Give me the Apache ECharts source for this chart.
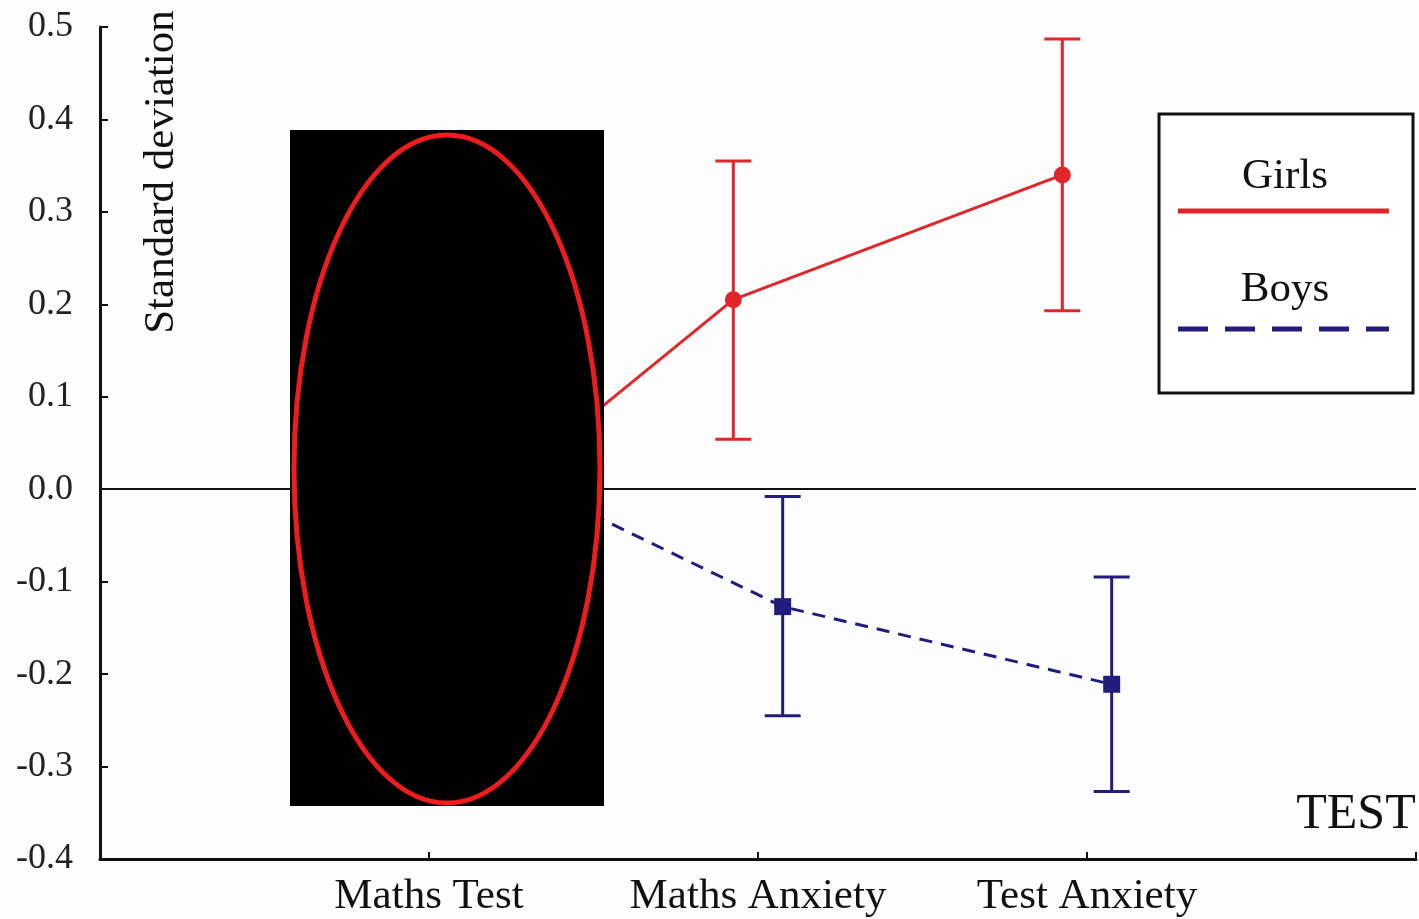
<!DOCTYPE html>
<html>
<head>
<meta charset="utf-8">
<script src="https://cdn.jsdelivr.net/npm/echarts@6/dist/echarts.min.js"></script>
<style>
  html, body { margin: 0; padding: 0; background: #fdfdfd; }
  #chart { width: 1419px; height: 919px; }
</style>
</head>
<body>
<div id="chart"></div>
<script>
// categories on the x axis (positions 1..3)
const categories = ['Maths Test', 'Maths Anxiety', 'Test Anxiety'];
// girls: mean and error bar ends (standard deviation units)
const girlsMean = [-0.085, 0.205, 0.340];
const girlsLow = [-0.235, 0.054, 0.193];
const girlsHigh = [0.065, 0.355, 0.487];
// boys
const boysMean = [0.045, -0.127, -0.211];
const boysLow = [-0.075, -0.245, -0.327];
const boysHigh = [0.165, -0.008, -0.095];
const yTicks = [-0.4, -0.3, -0.2, -0.1, 0.0, 0.1, 0.2, 0.3, 0.4, 0.5];

const RED = '#e0262a';
const NAVY = '#221d7c';
const shift = 0.075; // sideways offset so the two groups don't overlap
const serif = '"Liberation Serif", "DejaVu Serif", serif';

function pts(means, dx) {
  return means.map((v, i) => [i + 1 + dx, v]);
}
function bars(low, high, dx) {
  return low.map((v, i) => [i + 1 + dx, v, high[i]]);
}

function errorItem(color) {
  return function (params, api) {
    const x = api.value(0);
    const lo = api.coord([x, api.value(1)]);
    const hi = api.coord([x, api.value(2)]);
    const cap = 18;
    const style = { stroke: color, lineWidth: 3 };
    return {
      type: 'group',
      children: [
        { type: 'line', shape: { x1: lo[0], y1: lo[1], x2: hi[0], y2: hi[1] }, style: style },
        { type: 'line', shape: { x1: lo[0] - cap, y1: lo[1], x2: lo[0] + cap, y2: lo[1] }, style: style },
        { type: 'line', shape: { x1: hi[0] - cap, y1: hi[1], x2: hi[0] + cap, y2: hi[1] }, style: style }
      ]
    };
  };
}

const chart = echarts.init(document.getElementById('chart'));
const option = {
  backgroundColor: '#fdfdfd',
  animation: false,
  grid: { left: 100, right: 0, top: 27, bottom: 60 },
  xAxis: {
    type: 'value',
    min: 0,
    max: 4,
    interval: 1,
    splitLine: { show: false },
    axisLine: { onZero: false, lineStyle: { color: '#111', width: 3 } },
    axisTick: { inside: true, length: 7, lineStyle: { color: '#111', width: 2 } },
    axisLabel: {
      margin: 16,
      color: '#111',
      fontFamily: serif,
      fontSize: 43,
      formatter: v => categories[v - 1] || ''
    }
  },
  yAxis: {
    type: 'value',
    min: yTicks[0],
    max: yTicks[yTicks.length - 1],
    interval: 0.1,
    splitLine: { show: false },
    axisLine: { show: true, onZero: false, lineStyle: { color: '#111', width: 3 } },
    axisTick: { show: true, inside: true, length: 8, lineStyle: { color: '#111', width: 2 } },
    axisLabel: {
      margin: 27,
      color: '#222',
      fontFamily: serif,
      fontSize: 36,
      formatter: v => v.toFixed(1)
    }
  },
  series: [
    {
      name: 'Girls error',
      type: 'custom',
      renderItem: errorItem(RED),
      data: bars(girlsLow, girlsHigh, -shift),
      encode: { x: 0, y: [1, 2] },
      z: 2
    },
    {
      name: 'Boys error',
      type: 'custom',
      renderItem: errorItem(NAVY),
      data: bars(boysLow, boysHigh, shift),
      encode: { x: 0, y: [1, 2] },
      z: 2
    },
    {
      name: 'Girls',
      type: 'line',
      data: pts(girlsMean, -shift),
      symbol: 'circle',
      symbolSize: 17,
      itemStyle: { color: RED },
      lineStyle: { color: RED, width: 3 },
      z: 3,
      markLine: {
        silent: true,
        symbol: ['none', 'none'],
        label: { show: false },
        lineStyle: { color: '#111', width: 2, type: 'solid' },
        data: [{ yAxis: 0 }]
      }
    },
    {
      name: 'Boys',
      type: 'line',
      data: pts(boysMean, shift),
      symbol: 'rect',
      symbolSize: 17,
      itemStyle: { color: NAVY },
      lineStyle: { color: NAVY, width: 3, type: [13, 9] },
      z: 3
    }
  ],
  graphic: [
    {
      type: 'text',
      x: 162, y: 172,
      rotation: Math.PI / 2,
      style: { text: 'Standard deviation', font: '43px ' + serif, fill: '#111', align: 'center', verticalAlign: 'middle' }
    },
    {
      type: 'text',
      x: 1356, y: 815,
      style: { text: 'TEST', font: '50px ' + serif, fill: '#111', align: 'center', verticalAlign: 'middle' },
      z: 10
    },
    // legend box
    {
      type: 'rect',
      shape: { x: 1159, y: 114, width: 254, height: 279 },
      style: { fill: '#fff', stroke: '#111', lineWidth: 3 },
      z: 10
    },
    {
      type: 'text',
      x: 1285, y: 177,
      style: { text: 'Girls', font: '43px ' + serif, fill: '#111', align: 'center', verticalAlign: 'middle' },
      z: 11
    },
    {
      type: 'line',
      shape: { x1: 1178, y1: 211, x2: 1389, y2: 211 },
      style: { stroke: RED, lineWidth: 5 },
      z: 11
    },
    {
      type: 'text',
      x: 1285, y: 290,
      style: { text: 'Boys', font: '43px ' + serif, fill: '#111', align: 'center', verticalAlign: 'middle' },
      z: 11
    },
    {
      type: 'line',
      shape: { x1: 1178, y1: 329, x2: 1389, y2: 329 },
      style: { stroke: NAVY, lineWidth: 5, lineDash: [30, 17] },
      z: 11
    },
    // black block with red ring over the first category
    {
      type: 'rect',
      shape: { x: 290, y: 130, width: 314, height: 676 },
      style: { fill: '#000' },
      z: 20
    },
    {
      type: 'ellipse',
      shape: { cx: 447, cy: 469, rx: 153, ry: 334 },
      style: { fill: 'none', stroke: '#ee1c1c', lineWidth: 5 },
      z: 21
    }
  ]
};
chart.setOption(option);
</script>
</body>
</html>
